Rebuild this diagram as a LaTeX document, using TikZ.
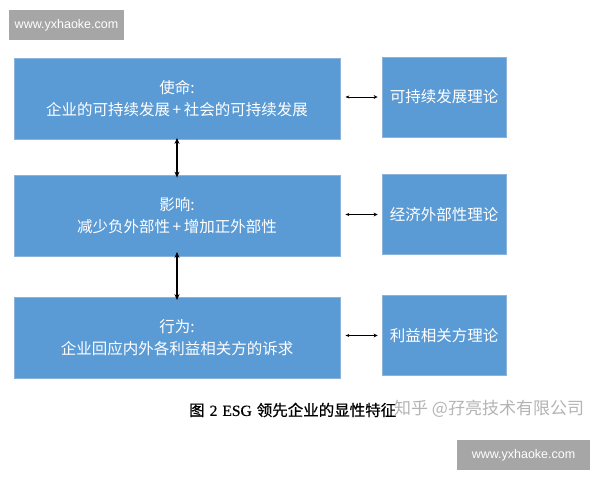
\documentclass[tikz,border=0pt]{standalone}
\usepackage{fontspec}
\setmainfont{Liberation Sans}
\newfontfamily\cjk{Noto Sans CJK SC}
\newfontfamily\cjkbold[FakeBold=0.8]{Noto Sans CJK SC}
\usetikzlibrary{arrows.meta}
\definecolor{boxblue}{HTML}{5B9BD5}
\definecolor{boxedge}{HTML}{8DB3DD}
\definecolor{wmgray}{HTML}{A6A6A6}
\definecolor{zhgray}{HTML}{B4B4B4}
\begin{document}
\begin{tikzpicture}[x=1pt,y=-1pt,
  mainbox/.style={draw=boxedge,line width=0.8pt,fill=boxblue,text=white,minimum width=326pt,minimum height=81pt,align=center,font=\cjk\fontsize{15.5}{22}\selectfont,inner sep=0pt},
  theorybox/.style={draw=boxedge,line width=0.8pt,fill=boxblue,text=white,minimum width=124pt,minimum height=80pt,align=center,font=\cjk\fontsize{15.5}{20}\selectfont,inner sep=0pt},
  wm/.style={fill=wmgray,text=white,font=\fontsize{12.5}{14}\selectfont,inner sep=0pt,minimum height=30pt},
  vlink/.style={{Stealth[length=6pt,width=5pt]}-{Stealth[length=6pt,width=5pt]},line width=1.5pt},
  hlink/.style={{Stealth[length=4pt,width=3pt]}-{Stealth[length=4pt,width=4pt,open]},line width=0.6pt}]
\useasboundingbox (0,0) rectangle (600,480);
\fill[white] (0,0) rectangle (600,480);
% watermarks
\node[wm,minimum width=115pt] (wm1) at (66.5,25) {www.yxhaoke.com};
\node[wm,minimum width=133pt] (wm2) at (523.5,455) {www.yxhaoke.com};
% main boxes
\node[mainbox] (m1) at (177,98.5) {使命:\\企业的可持续发展\,+\,社会的可持续发展};
\node[mainbox] (m2) at (177,215.5) {影响:\\减少负外部性\,+\,增加正外部性};
\node[mainbox] (m3) at (177,337.5) {行为:\\企业回应内外各利益相关方的诉求};
% theory boxes
\node[theorybox] (t1) at (444,97) {可持续发展理论};
\node[theorybox] (t2) at (444,214.5) {经济外部性理论};
\node[theorybox] (t3) at (444,335.5) {利益相关方理论};
% vertical arrows
\draw[vlink] ([yshift=1.5pt]m1.south) -- ([yshift=-3pt]m2.north);
\draw[vlink] ([yshift=4.5pt]m2.south) -- ([yshift=-3.5pt]m3.north);
% horizontal arrows
\draw[hlink] ([xshift=5pt]m1.east|-t1.center) -- ([xshift=-4pt]t1.west);
\draw[hlink] ([xshift=5pt]m2.east|-t2.center) -- ([xshift=-4pt]t2.west);
\draw[hlink] ([xshift=5pt]m3.east|-t3.center) -- ([xshift=-4pt]t3.west);
% caption
\node[anchor=west,inner sep=0pt,font=\cjkbold\fontsize{15.5}{18}\selectfont] (cap) at (189,410) {图\hspace{5pt}{\fontspec{Liberation Serif}[FakeBold=0.5]2\hspace{5pt}ESG}\hspace{5pt}领先企业的显性特征};
\node[anchor=west,inner sep=0pt,text=zhgray,font=\cjk\fontsize{17}{20}\selectfont] (zh) at (394,409) {知乎 @孖亮技术有限公司};
\end{tikzpicture}
\end{document}
